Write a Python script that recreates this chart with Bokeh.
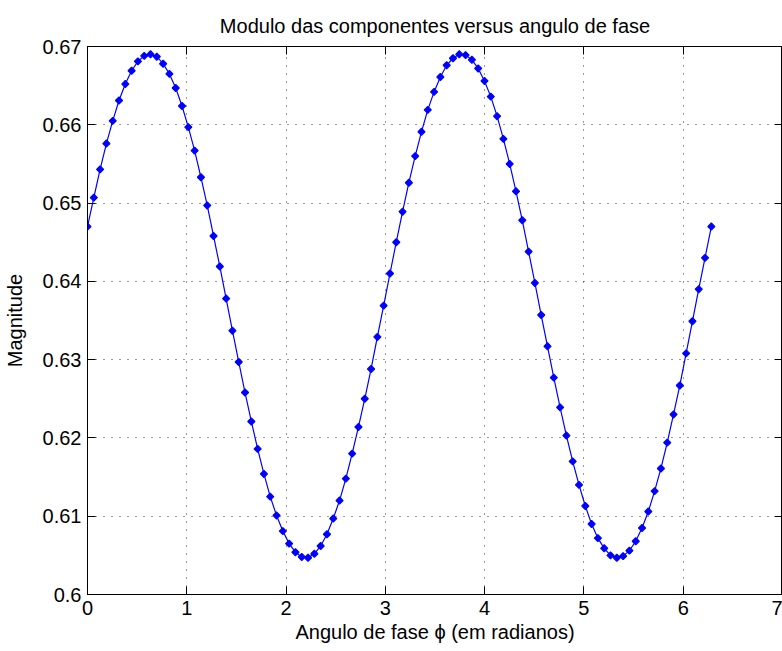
import math
from bokeh.plotting import figure
from bokeh.models import Range1d, LinearAxis, FixedTicker, ColumnDataSource
from bokeh.embed import file_html
from bokeh.resources import INLINE

# phase angle (rad), 100 samples from 0 to 2*pi
phase = [0.0000, 0.0635, 0.1269, 0.1904, 0.2539, 0.3173, 0.3808, 0.4443, 0.5077, 0.5712,
         0.6347, 0.6981, 0.7616, 0.8251, 0.8885, 0.9520, 1.0155, 1.0789, 1.1424, 1.2059,
         1.2693, 1.3328, 1.3963, 1.4597, 1.5232, 1.5867, 1.6501, 1.7136, 1.7771, 1.8405,
         1.9040, 1.9675, 2.0309, 2.0944, 2.1579, 2.2213, 2.2848, 2.3483, 2.4117, 2.4752,
         2.5387, 2.6021, 2.6656, 2.7291, 2.7925, 2.8560, 2.9195, 2.9829, 3.0464, 3.1099,
         3.1733, 3.2368, 3.3003, 3.3637, 3.4272, 3.4907, 3.5541, 3.6176, 3.6811, 3.7445,
         3.8080, 3.8715, 3.9349, 3.9984, 4.0619, 4.1253, 4.1888, 4.2523, 4.3157, 4.3792,
         4.4427, 4.5061, 4.5696, 4.6331, 4.6965, 4.7600, 4.8235, 4.8869, 4.9504, 5.0139,
         5.0773, 5.1408, 5.2043, 5.2677, 5.3312, 5.3947, 5.4581, 5.5216, 5.5851, 5.6485,
         5.7120, 5.7755, 5.8389, 5.9024, 5.9659, 6.0293, 6.0928, 6.1563, 6.2197, 6.2832]

# magnitude
magnitude = [0.6470, 0.6507, 0.6543, 0.6576, 0.6605, 0.6631, 0.6652, 0.6669, 0.6681, 0.6688,
             0.6690, 0.6687, 0.6678, 0.6665, 0.6647, 0.6624, 0.6597, 0.6567, 0.6533, 0.6497,
             0.6458, 0.6419, 0.6378, 0.6337, 0.6297, 0.6258, 0.6221, 0.6186, 0.6154, 0.6125,
             0.6101, 0.6081, 0.6065, 0.6054, 0.6048, 0.6047, 0.6052, 0.6062, 0.6077, 0.6097,
             0.6120, 0.6148, 0.6180, 0.6214, 0.6250, 0.6288, 0.6329, 0.6369, 0.6410, 0.6450,
             0.6489, 0.6526, 0.6560, 0.6591, 0.6619, 0.6642, 0.6661, 0.6676, 0.6685, 0.6690,
             0.6689, 0.6683, 0.6672, 0.6656, 0.6636, 0.6611, 0.6582, 0.6550, 0.6515, 0.6478,
             0.6438, 0.6398, 0.6357, 0.6317, 0.6277, 0.6239, 0.6203, 0.6170, 0.6140, 0.6113,
             0.6090, 0.6072, 0.6059, 0.6050, 0.6047, 0.6049, 0.6056, 0.6068, 0.6085, 0.6106,
             0.6132, 0.6161, 0.6194, 0.6230, 0.6267, 0.6308, 0.6349, 0.6390, 0.6430, 0.6470]

x_ticks = [0, 1, 2, 3, 4, 5, 6, 7]
y_ticks = [0.60, 0.61, 0.62, 0.63, 0.64, 0.65, 0.66, 0.67]
y_tick_labels = ["0.6", "0.61", "0.62", "0.63", "0.64", "0.65", "0.66", "0.67"]

title_text = "Modulo das componentes versus angulo de fase"
x_label = "Angulo de fase \u03d5 (em radianos)"
y_label = "Magnitude"

FONT = "Liberation Sans"
FS = "20px"

src = ColumnDataSource(data=dict(x=phase, y=magnitude))

p = figure(width=782, height=651, x_range=Range1d(0, 7), y_range=Range1d(0.6, 0.67),
           output_backend="svg", toolbar_location=None,
           min_border_left=87, min_border_right=0, min_border_top=46, min_border_bottom=57,
           background_fill_color="white", border_fill_color="white")

p.title.text = title_text
p.title.text_font = FONT
p.title.text_font_size = FS
p.title.text_font_style = "normal"
p.title.text_color = "black"
p.title.align = "center"
p.title.standoff = 19

p.outline_line_color = "black"
p.outline_line_width = 1

xt = FixedTicker(ticks=x_ticks)
yt = FixedTicker(ticks=y_ticks)

for ax in (p.xaxis[0], p.yaxis[0]):
    ax.major_tick_in = 8
    ax.major_tick_out = 0
    ax.minor_tick_line_color = None
    ax.axis_line_color = "black"
    ax.major_tick_line_color = "black"
    ax.major_label_text_font = FONT
    ax.major_label_text_font_size = FS
    ax.major_label_text_color = "black"
    ax.axis_label_text_font = FONT
    ax.axis_label_text_font_size = FS
    ax.axis_label_text_font_style = "normal"
    ax.axis_label_text_color = "black"

p.xaxis[0].ticker = xt
p.yaxis[0].ticker = yt
p.yaxis[0].major_label_overrides = {v: s for v, s in zip(y_ticks, y_tick_labels)}
p.xaxis[0].axis_label = x_label
p.yaxis[0].axis_label = y_label
p.xaxis[0].major_label_standoff = 6
p.xaxis[0].axis_label_standoff = 3
p.yaxis[0].major_label_standoff = 6
p.yaxis[0].axis_label_standoff = 14

top = LinearAxis(ticker=xt, major_tick_in=8, major_tick_out=0, minor_tick_line_color=None,
                 major_label_text_font_size="0px", major_label_text_color=None,
                 major_label_standoff=0,
                 axis_line_color="black", major_tick_line_color="black")
right = LinearAxis(ticker=yt, major_tick_in=8, major_tick_out=0, minor_tick_line_color=None,
                   major_label_text_font_size="0px", major_label_text_color=None,
                   major_label_standoff=0,
                   axis_line_color="black", major_tick_line_color="black")
p.add_layout(top, "above")
p.add_layout(right, "right")

p.xgrid.ticker = xt
p.ygrid.ticker = yt
for g in (p.xgrid[0], p.ygrid[0]):
    g.grid_line_color = "black"
    g.grid_line_dash = "1 7"
    g.grid_line_width = 1
    g.grid_line_alpha = 0.8

p.line("x", "y", source=src, line_color="#0000FF", line_width=1.2)
p.scatter("x", "y", source=src, marker="square", angle=math.pi / 4, size=5,
          fill_color="#0000FF", line_color="#0000FF", line_width=1.2)

open("out.html", "w").write(file_html(p, INLINE))
